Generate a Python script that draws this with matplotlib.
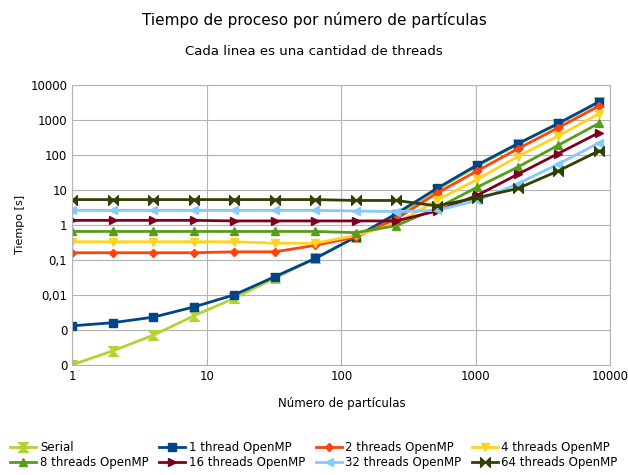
import matplotlib
matplotlib.use("Agg")
import matplotlib.pyplot as plt
from matplotlib.path import Path

x = [1,2,4,8,16,32,64,128,256,512,1024,2048,4096,8192]
serial = [0.0001,0.00025,0.0007,0.0025,0.008,0.03,0.11,0.45,1.8,10,48,200,770,3200]
t1 = [0.0013,0.0016,0.0023,0.0045,0.01,0.033,0.11,0.45,2.1,11,52,210,800,3300]
t2 = [0.16,0.16,0.16,0.16,0.17,0.17,0.26,0.45,1.5,8,35,150,600,2500]
t4 = [0.33,0.33,0.33,0.33,0.33,0.3,0.3,0.5,1.1,5,20,90,350,1500]
t8 = [0.65,0.65,0.65,0.65,0.65,0.65,0.65,0.6,0.95,3,12,45,190,800]
t16 = [1.35,1.35,1.35,1.35,1.3,1.3,1.3,1.3,1.3,2.5,7,28,110,430]
t32 = [2.6,2.6,2.6,2.6,2.6,2.6,2.6,2.5,2.4,2.6,5,15,55,220]
t64 = [5.3,5.3,5.3,5.3,5.3,5.3,5.3,5,5,3.5,6,11,35,130]
names = ["Serial","1 thread OpenMP","2 threads OpenMP","4 threads OpenMP",
         "8 threads OpenMP","16 threads OpenMP","32 threads OpenMP","64 threads OpenMP"]
ytick_vals = [1e-4,1e-3,1e-2,1e-1,1,10,100,1000,10000]
ytick_labels = ["0","0","0,01","0,1","1","10","100","1000","10000"]
xtick_vals = [1,10,100,1000,10000]
xtick_labels = ["1","10","100","1000","10000"]

hour = Path([(-1,1),(1,1),(-1,-1),(1,-1),(-1,1)],[1,2,2,2,79])
bow = Path([(-1,1),(-1,-1),(1,1),(1,-1),(-1,1)],[1,2,2,2,79])
colors = ["#b3d233","#004586","#ff420e","#ffd320","#579d1c","#7e0021","#83caff","#314004"]
markers = [hour,"s","D","v","^",">","<",bow]
sizes = [7,6,4.5,6,6,6,6,7]

fig = plt.figure(figsize=(6.28,4.75), dpi=100)
ax = fig.add_axes([0.115,0.232,0.857,0.589])
handles = []
for s,n,c,m,ms in zip([serial,t1,t2,t4,t8,t16,t32,t64],names,colors,markers,sizes):
    h, = ax.plot(x,s,color=c,marker=m,markersize=ms,lw=2,label=n)
    handles.append(h)
ax.set_xscale("log"); ax.set_yscale("log")
ax.set_xlim(1,10000); ax.set_ylim(1e-4,1e4)
ax.set_xticks(xtick_vals); ax.set_xticklabels(xtick_labels)
ax.set_yticks(ytick_vals); ax.set_yticklabels(ytick_labels)
ax.minorticks_off()
ax.tick_params(labelsize=8.5, length=0)
ax.grid(True,color="#b3b3b3",lw=0.8)
for sp in ax.spines.values(): sp.set_color("#b3b3b3")
ax.set_xlabel("Número de partículas",fontsize=8.5,labelpad=10)
ax.set_ylabel("Tiempo [s]",fontsize=8)
fig.text(0.5,0.975,"Tiempo de proceso por número de partículas",ha="center",va="top",fontsize=11)
fig.text(0.5,0.905,"Cada linea es una cantidad de threads",ha="center",va="top",fontsize=9.5)
order = [0,4,1,5,2,6,3,7]
fig.legend([handles[i] for i in order],[names[i] for i in order],
           loc="lower center",ncol=4,fontsize=8.5,frameon=False,bbox_to_anchor=(0.5,-0.01),
           columnspacing=0.9,handlelength=2.2,handletextpad=0.3,labelspacing=0.2)
fig.savefig("out.png",dpi=100)
